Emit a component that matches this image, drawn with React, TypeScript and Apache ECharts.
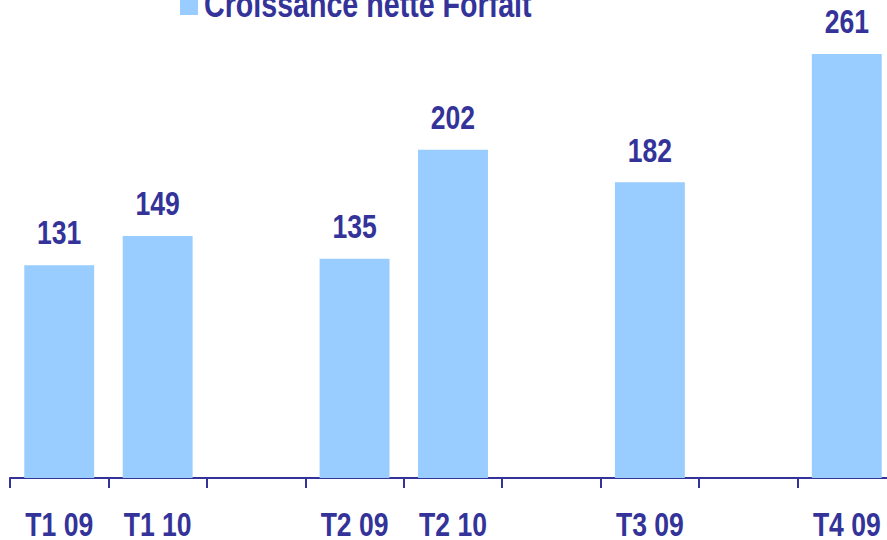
import React, { useEffect, useRef } from "react";
import * as echarts from "echarts";

const categories = ["T1 09", "T1 10", "", "T2 09", "T2 10", "", "T3 09", "", "T4 09"];
const values: (number | null)[] = [131, 149, null, 135, 202, null, 182, null, 261];
const seriesName = "Croissance nette Forfait";

const FONT = "'Liberation Sans', Arial, sans-serif";
const NAVY = "#333399";
const BAR = "#99CCFF";
const NARROW = 0.78;

export default function App() {
  const ref = useRef<HTMLDivElement>(null);
  useEffect(() => {
    document.body.style.margin = "0";
    const chart = echarts.init(ref.current!, null, { renderer: "svg" });
    const valueLabelData = values
      .map((v, i) => (v == null ? null : [i, v]))
      .filter((d) => d !== null);
    const catLabelData = categories
      .map((c, i) => (c === "" ? null : [i, 0]))
      .filter((d) => d !== null);
    chart.setOption({
      animation: false,
      graphic: [
        {
          type: "rect",
          left: 180,
          top: 0,
          shape: { width: 18, height: 15 },
          style: { fill: BAR },
        },
        {
          type: "text",
          x: 204,
          y: 23,
          scaleX: 0.795,
          style: {
            text: seriesName,
            fontFamily: FONT,
            fontWeight: "bold",
            fontSize: 36,
            fill: NAVY,
            textAlign: "left",
            textVerticalAlign: "bottom",
          },
        },
      ],
      grid: { left: 10, top: 54, width: 886, height: 424, containLabel: false },
      xAxis: {
        type: "category",
        data: categories,
        axisLine: { lineStyle: { color: NAVY, width: 2 } },
        axisTick: { show: true, length: 10, interval: 0, lineStyle: { color: NAVY, width: 2 } },
        axisLabel: { show: false },
      },
      yAxis: {
        type: "value",
        min: 0,
        max: 261,
        show: false,
        splitLine: { show: false },
      },
      series: [
        {
          name: seriesName,
          type: "bar",
          data: values,
          barWidth: "71%",
          itemStyle: { color: BAR },
        },
        {
          type: "custom",
          clip: false,
          silent: true,
          data: valueLabelData,
          renderItem: (params: any, api: any) => {
            const p = api.coord([api.value(0), api.value(1)]);
            return {
              type: "text",
              x: p[0],
              y: p[1] - 33,
              scaleX: NARROW,
              style: {
                text: String(api.value(1)),
                fontFamily: FONT,
                fontWeight: "bold",
                fontSize: 34,
                fill: NAVY,
                textAlign: "center",
                textVerticalAlign: "middle",
              },
            };
          },
        },
        {
          type: "custom",
          clip: false,
          silent: true,
          data: catLabelData,
          renderItem: (params: any, api: any) => {
            const idx = api.value(0);
            const p = api.coord([idx, 0]);
            return {
              type: "text",
              x: p[0],
              y: p[1] + 46,
              scaleX: NARROW,
              style: {
                text: categories[idx],
                fontFamily: FONT,
                fontWeight: "bold",
                fontSize: 34,
                lineHeight: 28,
                fill: NAVY,
                textAlign: "center",
                textVerticalAlign: "middle",
              },
            };
          },
        },
      ],
    });
    return () => chart.dispose();
  }, []);
  return (
    <div style={{ width: 887, height: 540, overflow: "hidden" }}>
      <div ref={ref} style={{ width: 900, height: 540 }} />
    </div>
  );
}
